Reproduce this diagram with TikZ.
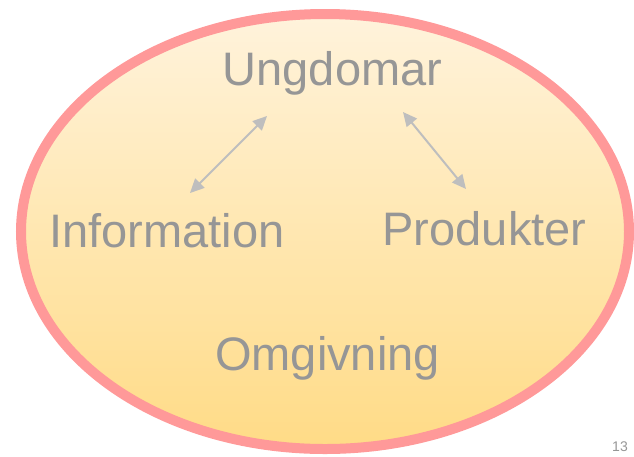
\documentclass[tikz,border=0pt]{standalone}
\usepackage{fontspec}
\setmainfont{Liberation Sans}
\usetikzlibrary{arrows.meta}
\definecolor{rim}{RGB}{255,153,153}
\definecolor{filltop}{RGB}{255,243,220}
\definecolor{fillbot}{RGB}{255,219,134}
\definecolor{txt}{RGB}{150,150,150}
\definecolor{arr}{RGB}{190,190,190}
\tikzset{
  lbl/.style={anchor=base, text=txt, font=\fontsize{47}{50}\selectfont, inner sep=0pt},
  link/.style={draw=arr, line width=2pt, {Triangle[length=14pt,width=13pt]}-{Triangle[length=14pt,width=13pt]}, shorten <=0pt, shorten >=0pt}
}
\begin{document}
\begin{tikzpicture}[x=1pt,y=-1pt]
\useasboundingbox (0,0) rectangle (634,456);
\shade[top color=filltop, bottom color=fillbot, middle color={filltop!50!fillbot}] (325,231.5) ellipse [x radius=304, y radius=217.5];
\draw[rim, line width=10pt] (325,231.5) ellipse [x radius=304, y radius=217.5];
\node[lbl] (u) at (332.5,85) {Ungdomar};
\node[lbl] (i) at (167,247) {Information};
\node[lbl] (p) at (484.5,245) {Produkter};
\node[lbl] (o) at (327.5,370) {Omgivning};
\node[anchor=base east, text=txt, font=\fontsize{14}{16}\selectfont, inner sep=0pt] (n) at (628,451) {13};
\coordinate (a1) at (190,193);
\coordinate (a2) at (267,116);
\coordinate (b1) at (403,112);
\coordinate (b2) at (466,189);
\draw[link] (a1) -- (a2);
\draw[link] (b1) -- (b2);
\end{tikzpicture}
\end{document}
